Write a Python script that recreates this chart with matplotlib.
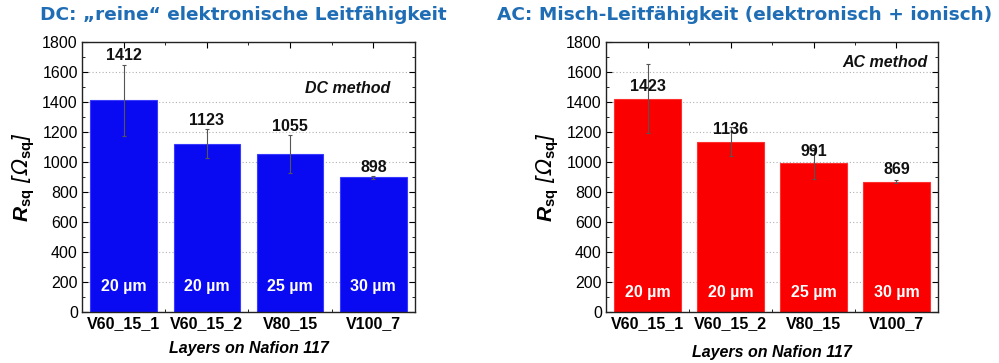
import numpy as np
import matplotlib
matplotlib.use("Agg")
import matplotlib.pyplot as plt
from matplotlib.ticker import MultipleLocator

plt.rcParams["font.family"] = ["Liberation Sans", "DejaVu Sans"]
plt.rcParams["mathtext.fontset"] = "custom"
plt.rcParams["mathtext.rm"] = "Liberation Sans:bold"
plt.rcParams["mathtext.it"] = "Liberation Sans:italic:bold"
plt.rcParams["mathtext.bf"] = "Liberation Sans:bold"
plt.rcParams["mathtext.sf"] = "DejaVu Sans:italic"

# ── Data ──────────────────────────────────────────────────────────────────────
samples = ["V60_15_1", "V60_15_2", "V80_15", "V100_7"]
thickness = ["20 µm", "20 µm", "25 µm", "30 µm"]

dc_values = [1412, 1123, 1055, 898]
dc_errors = [238, 98, 125, 10]

ac_values = [1423, 1136, 991, 869]
ac_errors = [228, 96, 104, 8]

TITLE_COLOR = "#1f6db4"
FS = 11.5
YLABEL = r"$R_{\mathbf{sq}}\ \mathsf{[Ω}_{\mathbf{sq}}\mathsf{]}$"


def draw_panel(ax, values, errors, color, edge, method, method_xy, label_mode, inner_y):
    x = np.arange(len(samples))
    ax.bar(x, values, width=0.8, color=color, edgecolor=edge, linewidth=0.8, zorder=2)
    ax.errorbar(x, values, yerr=errors, fmt="none", ecolor="#555555",
                elinewidth=0.8, capsize=1.5, capthick=0.8, zorder=3)

    # value above each bar, layer thickness inside it
    for xi, v, e, t in zip(x, values, errors, thickness):
        if label_mode == "above_error":
            ly = v + e + 58
        else:
            ly = v + 78
        ax.text(xi, ly, f"{v}", ha="center", va="center", fontsize=FS,
                fontweight="bold", color="#111111", zorder=4)
        ax.text(xi, inner_y, t, ha="center", va="center", fontsize=FS,
                fontweight="bold", color="white", zorder=4)

    ax.text(method_xy[0], method_xy[1], method, ha="right", va="center", fontsize=FS,
            fontweight="bold", fontstyle="italic", color="#111111")

    ax.set_xlim(-0.5, 3.5)
    ax.set_ylim(0, 1800)
    ax.set_xticks(x)
    ax.set_xticklabels(samples, fontweight="bold", fontsize=FS)
    ax.xaxis.set_minor_locator(MultipleLocator(0.5))
    ax.yaxis.set_major_locator(MultipleLocator(200))
    ax.yaxis.set_minor_locator(MultipleLocator(100))
    ax.tick_params(axis="both", which="both", direction="in", top=True, right=True)
    ax.tick_params(axis="both", which="major", length=4, width=0.8, labelsize=FS, pad=3)
    ax.tick_params(axis="both", which="minor", length=2, width=0.6)
    ax.grid(True, axis="y", linestyle=(0, (1, 2)), color="#b0b0b0", linewidth=0.8)
    ax.set_axisbelow(True)
    for s in ax.spines.values():
        s.set_linewidth(1.0)
        s.set_color("#222222")

    ax.set_ylabel(YLABEL, fontsize=15, labelpad=4)


fig = plt.figure(figsize=(9.99, 3.63), dpi=100)

ax_dc = fig.add_axes([82 / 999, 51 / 363, 333 / 999, 270 / 363])
draw_panel(ax_dc, dc_values, dc_errors, "#0a0af2", "#3a3aff",
           "DC method", (3.2, 1487), "above_error", 167)
ax_dc.set_xlabel("Layers on Nafion 117", fontsize=FS, fontweight="bold",
                 fontstyle="italic", labelpad=7)

ax_ac = fig.add_axes([606 / 999, 51 / 363, 332 / 999, 270 / 363])
draw_panel(ax_ac, ac_values, ac_errors, "#fa0000", "#ff3030",
           "AC method", (3.38, 1662), "above_bar", 130)
ax_ac.set_xlabel("Layers on Nafion 117", fontsize=FS, fontweight="bold",
                 fontstyle="italic", labelpad=10)

fig.text(40 / 999, 1 - 15 / 363, "DC: „reine“ elektronische Leitfähigkeit",
         ha="left", va="center", fontsize=13.3, fontweight="bold",
         color=TITLE_COLOR, family="DejaVu Sans")
fig.text(497 / 999, 1 - 15 / 363, "AC: Misch-Leitfähigkeit (elektronisch + ionisch)",
         ha="left", va="center", fontsize=13.3, fontweight="bold",
         color=TITLE_COLOR, family="DejaVu Sans")

fig.savefig("out.png", dpi=100)
